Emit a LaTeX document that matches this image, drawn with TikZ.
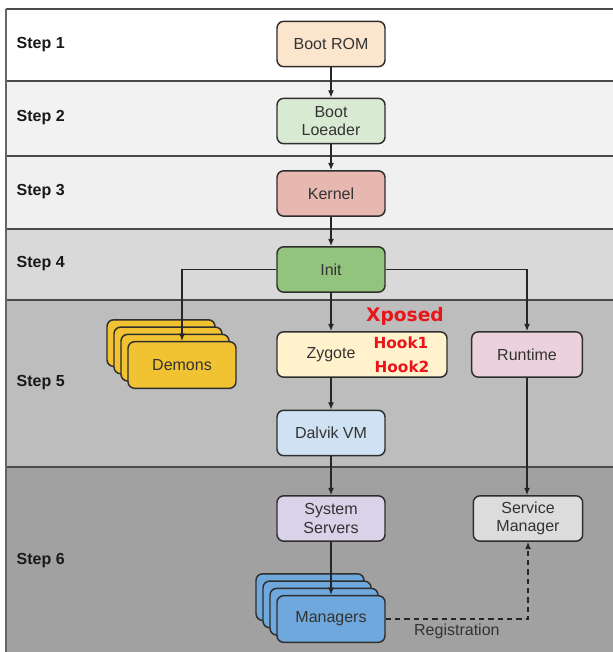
\documentclass[tikz,border=0pt]{standalone}
\usepackage{fontspec}
\setmainfont{Liberation Sans}
\newfontfamily\hookfont{DejaVu Sans}
\usetikzlibrary{arrows.meta}

\definecolor{romfill}{HTML}{FCE5CD}
\definecolor{loaderfill}{HTML}{D9EAD3}
\definecolor{kernelfill}{HTML}{E6B8AF}
\definecolor{initfill}{HTML}{93C47D}
\definecolor{demonfill}{HTML}{F1C232}
\definecolor{zygotefill}{HTML}{FFF2CC}
\definecolor{runtimefill}{HTML}{EAD1DC}
\definecolor{dalvikfill}{HTML}{CFE2F3}
\definecolor{serverfill}{HTML}{D9D2E9}
\definecolor{svcfill}{HTML}{DCDCDC}
\definecolor{mgrfill}{HTML}{6FA8DC}
\definecolor{boxline}{HTML}{2E2E2E}
\definecolor{bandline}{HTML}{4A4A4A}
\definecolor{hookred}{HTML}{E8151B}

\begin{document}
\begin{tikzpicture}[x=.75pt,y=-.75pt,
    flow/.style={-{Latex[length=5.5pt,width=4.5pt]}, line width=.9pt, draw=black!85},
    sep/.style={draw=bandline, line width=1.5pt}]

        \useasboundingbox (0,0) rectangle (612,652);

        % bands
        \fill[white]        (6,9)   rectangle (620,81);
        \fill[black!5]      (6,81)  rectangle (620,156);
        \fill[black!6]      (6,156) rectangle (620,229);
        \fill[black!15]     (6,229) rectangle (620,300);
        \fill[black!26]     (6,300) rectangle (620,467);
        \fill[black!37]     (6,467) rectangle (620,660);
        \draw[sep] (6,9) -- (620,9);
        \draw[sep] (6,81) -- (620,81);
        \draw[sep] (6,156) -- (620,156);
        \draw[sep] (6,229) -- (620,229);
        \draw[sep] (6,300) -- (620,300);
        \draw[sep] (6,467) -- (620,467);
        \draw[draw=black!60, line width=1pt] (6,9) -- (6,660);

        \begin{scope}[every node/.style={anchor=west, font=\bfseries\fontsize{12}{14}\selectfont, text=black!90}]
          \node (s1) at (12,45)  {Step 1};
          \node (s2) at (12,118) {Step 2};
          \node (s3) at (12,192) {Step 3};
          \node (s4) at (12,264) {Step 4};
          \node (s5) at (12,383) {Step 5};
          \node (s6) at (12,561) {Step 6};
        \end{scope}

        \begin{scope}[every node/.style={draw=boxline, line width=1.1pt, rounded corners=5pt,
            minimum width=81pt, minimum height=34pt, inner sep=2pt, align=center,
            font=\fontsize{12}{14}\selectfont, text=black!80}]
          \node[fill=romfill]     (rom)     at (331,44)    {Boot ROM};
          \node[fill=loaderfill]  (loader)  at (331,121)   {Boot\\Loeader};
          \node[fill=kernelfill]  (kernel)  at (331,193.5) {Kernel};
          \node[fill=initfill]    (init)    at (331,269.5) {Init};
          \node[fill=zygotefill, minimum width=127.5pt] (zygote) at (362,354.5) {};
          \node[fill=runtimefill, minimum width=83pt]    (runtime) at (527,354.5) {Runtime};
          \foreach \k in {3,2,1}
            \node[fill=demonfill, minimum height=35pt] (demon\k) at ({182-7*\k},{365-7.3*\k}) {};
          \node[fill=demonfill, minimum height=35pt] (demons)  at (182,365)   {Demons};
          \node[fill=dalvikfill]  (dalvik)  at (331,433)   {Dalvik VM};
          \node[fill=serverfill]  (servers) at (331,518.5) {System\\Servers};
          \node[fill=svcfill, minimum width=82pt] (svcmgr) at (528,518.5) {Service\\Manager};
          \foreach \k in {3,2,1}
            \node[fill=mgrfill, minimum height=35pt] (mgr\k) at ({331-7*\k},{619-7.3*\k}) {};
          \node[fill=mgrfill, minimum height=35pt] (managers) at (331,619) {Managers};
        \end{scope}

        \node[font=\fontsize{12}{14}\selectfont, text=black!80] (zylabel) at (331,354.5) {Zygote};

        \begin{scope}[every node/.style={font=\hookfont\bfseries\fontsize{11.5}{13}\selectfont, text=hookred}]
          \node[font=\hookfont\bfseries\fontsize{14}{16}\selectfont] (xposed) at (405,316) {Xposed};
          \node (hook1) at (401,343) {Hook1};
          \node (hook2) at (402,367) {Hook2};
        \end{scope}

        \draw[flow] (rom) -- (loader);
        \draw[flow] (loader) -- (kernel);
        \draw[flow] (kernel) -- (init);
        \draw[flow] (init) -- (init |- zygote.north);
        \draw[flow] (init.west) -| (demons.north);
        \draw[flow] (init.east) -| (runtime.north);
        \draw[flow] (dalvik |- zygote.south) -- (dalvik);
        \draw[flow] (dalvik) -- (servers);
        \draw[flow] (servers) -- (managers);
        \draw[flow] (runtime) -- (runtime |- svcmgr.north);
        \draw[flow, dash pattern=on 4pt off 3pt] (managers.east) -| (svcmgr.south)
          node[pos=.25, below, font=\fontsize{12}{14}\selectfont, text=black!80] {Registration};

      \end{tikzpicture}
\end{document}
